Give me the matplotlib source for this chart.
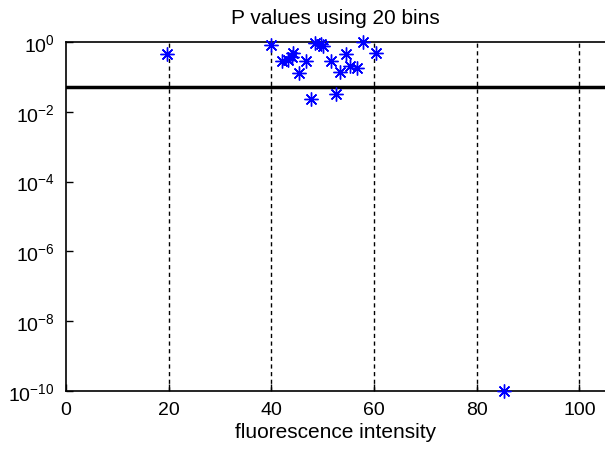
import matplotlib
matplotlib.use("Agg")
import matplotlib.pyplot as plt
import numpy as np

title = "P values using 20 bins"
xlabel = "fluorescence intensity"
x_vals = [19.7, 40.0, 42.0, 43.3, 44.1, 44.3, 45.4, 46.7, 47.7, 48.6, 49.6, 50.1,
          51.6, 52.5, 53.4, 54.5, 55.3, 56.6, 57.9, 60.4, 85.4]
p_vals = [0.45, 0.84, 0.29, 0.31, 0.36, 0.48, 0.13, 0.29, 0.023, 0.95, 0.88, 0.75,
          0.29, 0.032, 0.135, 0.45, 0.20, 0.18, 1.0, 0.5, 1e-10]
threshold = 0.05
x_ticks = [0, 20, 40, 60, 80, 100]
y_exps = [0, -2, -4, -6, -8, -10]

plt.rcParams['font.family'] = ['Liberation Sans', 'DejaVu Sans']
plt.rcParams['mathtext.fontset'] = 'custom'
plt.rcParams['mathtext.rm'] = 'Liberation Sans'
fig = plt.figure(figsize=(6.05, 4.52), dpi=100)
ax = fig.add_axes([66/605, 1-392/452, 1-66/605, (392-43)/452])
ax.set_yscale('log')
ax.set_xlim(0, 105)
ax.set_ylim(1e-10, 1)
for xv in x_ticks[1:]:
    ax.axvline(xv, color='black', linestyle=(0, (3, 2.5)), linewidth=1.0, zorder=1)
ax.axhline(threshold, color='black', linewidth=2.5, zorder=2)
ax.plot(x_vals, p_vals, linestyle='none', marker=(8, 2, 0), color='blue', markersize=10,
        markeredgewidth=1.0, zorder=3, clip_on=False)
ax.set_xticks(x_ticks)
ax.set_xticklabels([str(t) for t in x_ticks])
ax.set_yticks([10.0**e for e in y_exps])
ax.set_yticklabels([r'$\mathregular{10^{%d}}$' % e for e in y_exps])
ax.yaxis.set_minor_locator(matplotlib.ticker.NullLocator())
ax.tick_params(direction='in', length=5, labelsize=14, width=1)
ax.tick_params(axis='x', pad=7)
ax.tick_params(axis='y', pad=8)
ax.spines['right'].set_visible(False)
for s in ['top', 'left', 'bottom']:
    ax.spines[s].set_linewidth(1.2)
ax.set_title(title, fontsize=15, pad=14)
ax.set_xlabel(xlabel, fontsize=15, labelpad=3)
fig.savefig('out.png', dpi=100)
